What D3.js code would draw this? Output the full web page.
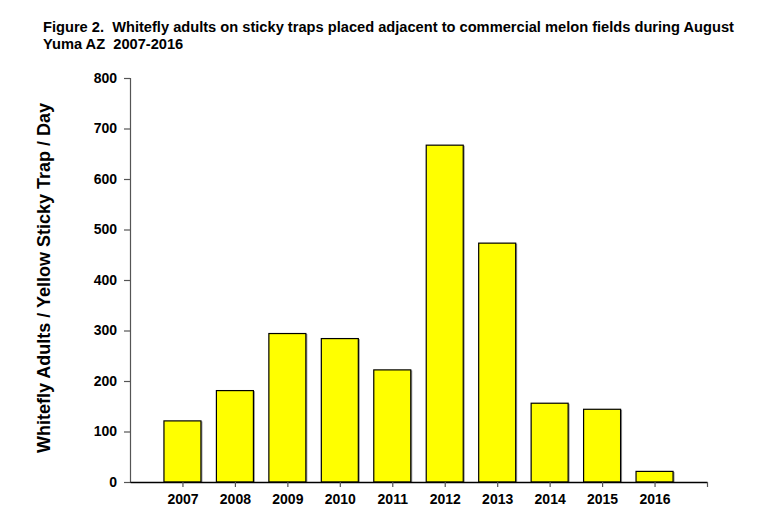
<!DOCTYPE html>
<html><head><meta charset="utf-8">
<script src="https://cdn.jsdelivr.net/npm/d3@7"></script>
<style>body{margin:0;background:#fff}svg{display:block}text{font-family:"Liberation Sans",Arial,sans-serif;font-weight:bold;white-space:pre}</style>
</head><body><svg id="c" width="780" height="512"></svg>
<script>
const years = [2007,2008,2009,2010,2011,2012,2013,2014,2015,2016];
const values = [121,181,294,284,222,667,473,156,144,21];
const yTicks = [0,100,200,300,400,500,600,700,800];
const titleLines = ["Figure 2.  Whitefly adults on sticky traps placed adjacent to commercial melon fields during August","Yuma AZ  2007-2016"];
const yTitle = "Whitefly Adults / Yellow Sticky Trap / Day";

const svg = d3.select("#c");
const x = d3.scaleLinear().domain([2006,2017]).range([130,707]);
const y = d3.scaleLinear().domain([0,800]).range([482,78]);
const bw = 37;

svg.append("g").selectAll("text").data(titleLines).join("text")
  .attr("x",43).attr("y",(d,i)=>32+i*17).attr("font-size",14.65).text(d=>d);

// bars shadow
svg.append("g").selectAll("rect").data(values).join("rect")
  .attr("x",(d,i)=>x(years[i])-bw/2+1.5).attr("y",d=>y(d)+0.5)
  .attr("width",bw).attr("height",d=>y(0)-y(d))
  .attr("fill","#999");
svg.append("g").selectAll("rect").data(values).join("rect")
  .attr("x",(d,i)=>x(years[i])-bw/2).attr("y",d=>y(d))
  .attr("width",bw).attr("height",d=>y(0)-y(d))
  .attr("fill","#ffff00").attr("stroke","#000").attr("stroke-width",1.2);

const ya = svg.append("g").attr("transform","translate(130,0)")
  .call(d3.axisLeft(y).tickValues(yTicks).tickSize(6).tickPadding(7).tickFormat(d3.format("d")));
ya.selectAll("path,line").attr("stroke","#555").attr("stroke-width",1.2);
ya.selectAll("text").attr("font-size",14).attr("font-family","Liberation Sans, Arial").attr("font-weight","bold").attr("fill","#000");

const xa = svg.append("g").attr("transform","translate(0,482)")
  .call(d3.axisBottom(x).tickValues(years.concat([2017])).tickSize(5).tickSizeOuter(0).tickPadding(7).tickFormat(d=>d===2017?"":d));
xa.selectAll("path").attr("stroke","#000").attr("stroke-width",1.5);
xa.selectAll("line").attr("stroke","#555").attr("stroke-width",1.2);
xa.selectAll("text").attr("font-size",14).attr("font-family","Liberation Sans, Arial").attr("font-weight","bold").attr("fill","#000");

svg.append("text").attr("transform","translate(50,278) rotate(-90)")
  .attr("text-anchor","middle").attr("font-size",18).text(yTitle);
</script></body></html>
